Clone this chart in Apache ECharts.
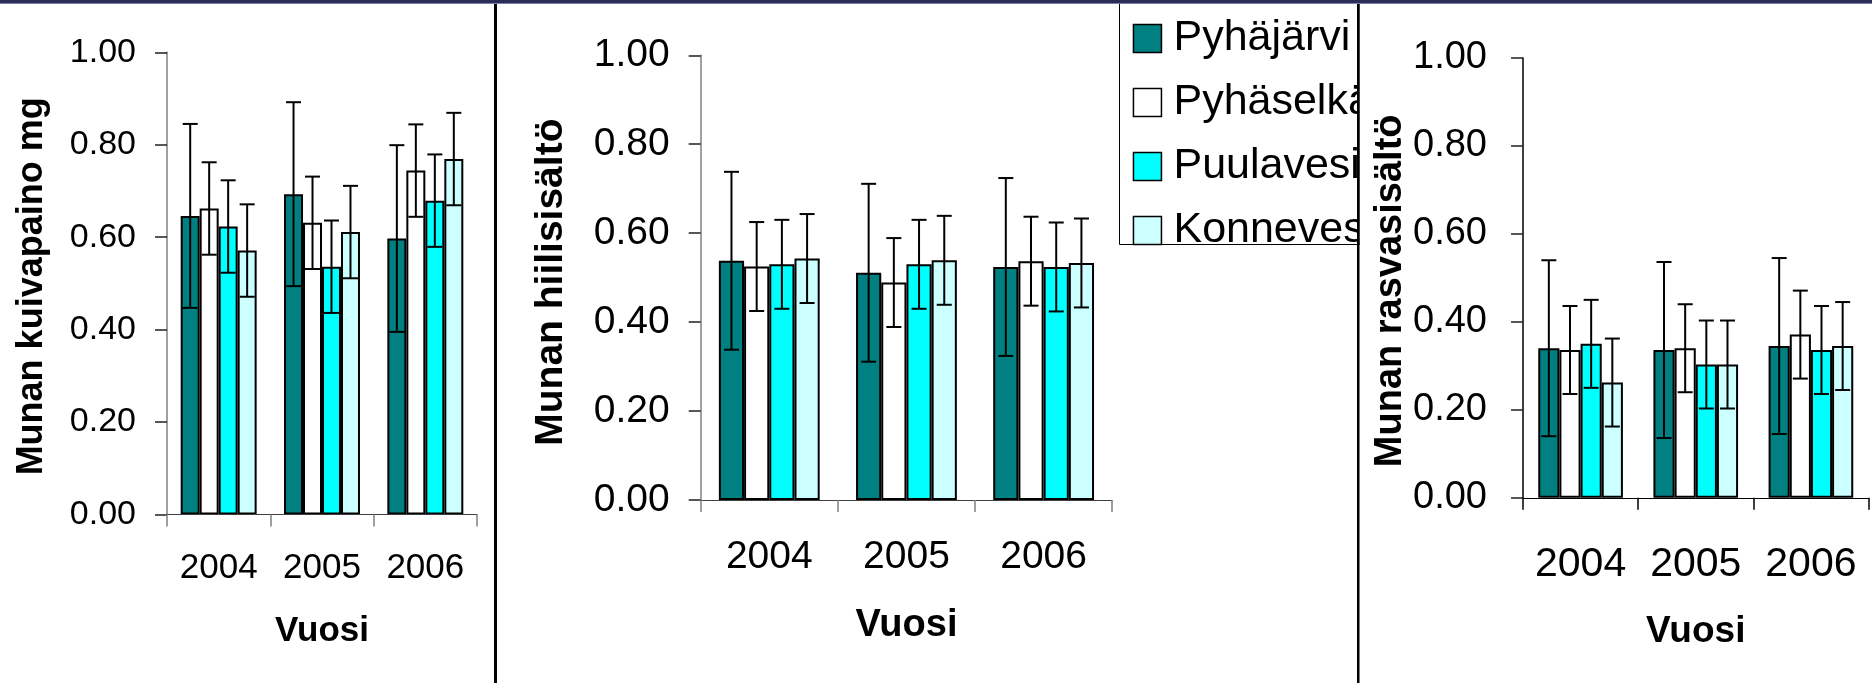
<!DOCTYPE html>
<html>
<head>
<meta charset="utf-8">
<script src="https://cdn.jsdelivr.net/npm/echarts@6/dist/echarts.min.js"></script>
<style>
html,body{margin:0;padding:0;background:#fff;}
#c{width:1872px;height:683px;}
</style>
</head>
<body>
<div id="c"></div>
<script>
// ---- data ----
const categories = ['2004', '2005', '2006'];
const lakes = ['Pyhäjärvi', 'Pyhäselkä', 'Puulavesi', 'Konnevesi'];
const yTickLabels = ['0.00', '0.20', '0.40', '0.60', '0.80', '1.00'];

// Panel 1: Munan kuivapaino mg
const dryPyhajarvi = [0.646, 0.693, 0.597];
const dryPyhaselka = [0.662, 0.631, 0.744];
const dryPuulavesi = [0.623, 0.536, 0.679];
const dryKonnevesi = [0.571, 0.611, 0.769];
const dryErrPyhajarvi = [0.199, 0.199, 0.202];
const dryErrPyhaselka = [0.100, 0.100, 0.100];
const dryErrPuulavesi = [0.100, 0.100, 0.100];
const dryErrKonnevesi = [0.100, 0.100, 0.100];

// Panel 2: Munan hiilisisältö
const carbPyhajarvi = [0.538, 0.511, 0.524];
const carbPyhaselka = [0.525, 0.489, 0.537];
const carbPuulavesi = [0.530, 0.530, 0.524];
const carbKonnevesi = [0.543, 0.539, 0.533];
const carbErrPyhajarvi = [0.200, 0.200, 0.200];
const carbErrPyhaselka = [0.100, 0.100, 0.100];
const carbErrPuulavesi = [0.100, 0.100, 0.100];
const carbErrKonnevesi = [0.100, 0.100, 0.100];

// Panel 3: Munan rasvasisältö
const fatPyhajarvi = [0.340, 0.336, 0.345];
const fatPyhaselka = [0.336, 0.340, 0.371];
const fatPuulavesi = [0.350, 0.303, 0.336];
const fatKonnevesi = [0.262, 0.303, 0.345];
const fatErrPyhajarvi = [0.200, 0.200, 0.200];
const fatErrPyhaselka = [0.100, 0.100, 0.100];
const fatErrPuulavesi = [0.100, 0.100, 0.100];
const fatErrKonnevesi = [0.100, 0.100, 0.100];

// ---- styling ----
const colors = ['#008080', '#ffffff', '#00ffff', '#ccffff'];
const FONT = '"Liberation Sans", Arial, sans-serif';
const GAP = 0.265;

const panels = [
  {
    name: 'Munan kuivapaino mg',
    means: [dryPyhajarvi, dryPyhaselka, dryPuulavesi, dryKonnevesi],
    errs: [dryErrPyhajarvi, dryErrPyhaselka, dryErrPuulavesi, dryErrKonnevesi],
    grid: {left: 167, top: 52.3, width: 310, height: 462.1},
    tickSize: 34, tickMargin: 31, xSize: 35, xMargin: 36,
    xNameSize: 35, xNameGap: 99, yNameSize: 36, yNameGap: 117, yNameShift: 6,
    yLineColor: '#808080', xLineColor: '#404040'
  },
  {
    name: 'Munan hiilisisältö',
    means: [carbPyhajarvi, carbPyhaselka, carbPuulavesi, carbKonnevesi],
    errs: [carbErrPyhajarvi, carbErrPyhaselka, carbErrPuulavesi, carbErrKonnevesi],
    grid: {left: 700.7, top: 55.3, width: 411.5, height: 444.7},
    tickSize: 39, tickMargin: 31, xSize: 39, xMargin: 38,
    xNameSize: 38, xNameGap: 107, yNameSize: 39, yNameGap: 130, yNameShift: 9,
    yLineColor: '#808080', xLineColor: '#404040'
  },
  {
    name: 'Munan rasvasisältö',
    means: [fatPyhajarvi, fatPyhaselka, fatPuulavesi, fatKonnevesi],
    errs: [fatErrPyhajarvi, fatErrPyhaselka, fatErrPuulavesi, fatErrKonnevesi],
    grid: {left: 1523, top: 57.9, width: 345.5, height: 439.9},
    tickSize: 38, tickMargin: 36, xSize: 41, xMargin: 46,
    xNameSize: 37, xNameGap: 115, yNameSize: 38, yNameGap: 113, yNameShift: 26,
    yLineColor: '#000000', xLineColor: '#000000'
  }
];

const grids = [], xAxes = [], yAxes = [], series = [];

panels.forEach((p, gi) => {
  grids.push(Object.assign({containLabel: false}, p.grid));
  xAxes.push({
    type: 'category', gridIndex: gi, data: categories, z: 10,
    axisLine: {show: true, lineStyle: {color: p.xLineColor, width: 1}},
    axisTick: {show: true, length: 12, lineStyle: {color: p.yLineColor, width: 1.5}},
    axisLabel: {color: '#000', fontFamily: FONT, fontSize: p.xSize, margin: p.xMargin,
      interval: 0, hideOverlap: false},
    splitLine: {show: false},
    name: 'Vuosi', nameLocation: 'middle', nameGap: p.xNameGap,
    nameTextStyle: {color: '#000', fontFamily: FONT, fontSize: p.xNameSize, fontWeight: 'bold'}
  });
  yAxes.push({
    type: 'value', gridIndex: gi, min: 0, max: 1, interval: 0.2, z: 10,
    axisLine: {show: true, lineStyle: {color: p.yLineColor, width: 1.5}},
    axisTick: {show: true, length: 12, inside: false, lineStyle: {color: '#202020', width: 1.5}},
    axisLabel: {
      color: '#000', fontFamily: FONT, fontSize: p.tickSize, margin: p.tickMargin,
      formatter: v => yTickLabels[Math.round(v / 0.2)]
    },
    splitLine: {show: false},
    name: p.name, nameLocation: 'middle', nameGap: p.yNameGap,
    nameTextStyle: {color: '#000', fontFamily: FONT, fontSize: p.yNameSize, fontWeight: 'bold',
      padding: [0, p.yNameShift, 0, 0]}
  });
  lakes.forEach((lake, li) => {
    series.push({
      type: 'bar', name: lake, xAxisIndex: gi, yAxisIndex: gi,
      data: p.means[li], z: 4,
      barGap: '0%', barCategoryGap: (GAP * 100) + '%',
      itemStyle: {color: colors[li], borderColor: '#000', borderWidth: 2},
      emphasis: {disabled: true}
    });
  });
  lakes.forEach((lake, li) => {
    const data = p.means[li].map((m, ci) => [ci, m, p.errs[li][ci]]);
    series.push({
      type: 'custom', name: 'err-' + gi + '-' + li,
      xAxisIndex: gi, yAxisIndex: gi, z: 6, clip: false,
      encode: {x: 0, y: 1},
      data: data,
      renderItem: function (params, api) {
        const cat = api.value(0), v = api.value(1), e = api.value(2);
        const catW = api.size([1, 0])[0];
        const total = catW * (1 - GAP);
        const bw = total / 4;
        const off = -total / 2 + bw * (li + 0.5);
        const t = api.coord([cat, v + e]);
        const b = api.coord([cat, v - e]);
        const x = t[0] + off;
        const cap = 7.5;
        const st = {stroke: '#000', lineWidth: 2};
        return {
          type: 'group',
          children: [
            {type: 'line', shape: {x1: x, y1: t[1], x2: x, y2: b[1]}, style: st},
            {type: 'line', shape: {x1: x - cap, y1: t[1], x2: x + cap, y2: t[1]}, style: st},
            {type: 'line', shape: {x1: x - cap, y1: b[1], x2: x + cap, y2: b[1]}, style: st}
          ]
        };
      }
    });
  });
});

const option = {
  animation: false,
  backgroundColor: '#ffffff',
  grid: grids,
  xAxis: xAxes,
  yAxis: yAxes,
  legend: {
    data: lakes,
    orient: 'vertical',
    left: 1132.7, top: 17,
    padding: 0,
    itemWidth: 28, itemHeight: 28, itemGap: 21,
    selectedMode: false,
    icon: 'rect',
    z: 4,
    itemStyle: {borderColor: '#000', borderWidth: 1.5},
    textStyle: {color: '#000', fontFamily: FONT, fontSize: 43, lineHeight: 28, padding: [0, 0, 0, 7]}
  },
  graphic: [
    {type: 'rect', z: 3, shape: {x: 1119.5, y: -2, width: 240, height: 246.5},
     style: {fill: '#ffffff', stroke: '#000', lineWidth: 1}},
    {type: 'rect', z: 5, shape: {x: 1359.5, y: 3, width: 60, height: 240.5},
     style: {fill: '#ffffff'}},
    {type: 'rect', z: 20, shape: {x: 494, y: 0, width: 3, height: 683}, style: {fill: '#000'}},
    {type: 'rect', z: 20, shape: {x: 1357, y: 0, width: 2.5, height: 683}, style: {fill: '#000'}},
    {type: 'rect', z: 21, shape: {x: 0, y: 0, width: 1872, height: 3}, style: {fill: '#2a2d55'}},
    {type: 'rect', z: 21, shape: {x: 0, y: 3, width: 1872, height: 1}, style: {fill: '#7d82a8'}}
  ],
  series: series
};

const chart = echarts.init(document.getElementById('c'), null, {renderer: 'canvas'});
chart.setOption(option);
</script>
</body>
</html>
